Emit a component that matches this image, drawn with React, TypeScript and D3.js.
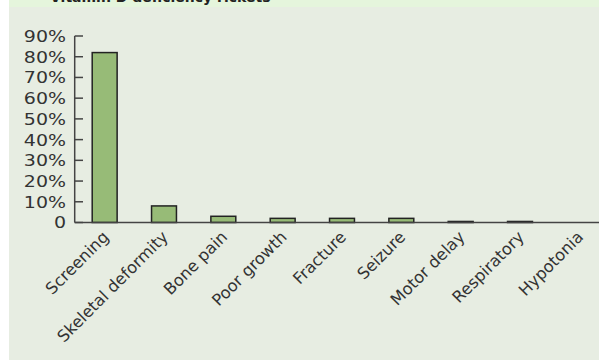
import React from "react";
import * as d3 from "d3";

const categories = ["Screening", "Skeletal deformity", "Bone pain", "Poor growth", "Fracture", "Seizure", "Motor delay", "Respiratory", "Hypotonia"];
const values = [82, 8, 3, 2, 2, 2, 0.5, 0.5, 0];
const yTicks = [0, 10, 20, 30, 40, 50, 60, 70, 80, 90];
const title = "Vitamin D deficiency rickets";

const W = 599;
const H = 361;
const FONT = "'DejaVu Sans', sans-serif";

export default function App() {
  const x = d3.scaleBand<string>().domain(categories).range([75, 609]).paddingInner(0.58).paddingOuter(0.29);
  const y = d3.scaleLinear().domain([0, 90]).range([222.5, 36]);
  const fmt = (v: number) => (v === 0 ? "0" : `${v}%`);
  return (
    <svg width={W} height={H} style={{ position: "absolute", left: 0, top: 0 }} xmlns="http://www.w3.org/2000/svg">
      <rect x={9} y={0} width={W - 9} height={7} fill="#e5f5dc" />
      <rect x={9} y={7} width={W - 9} height={353} fill="#e7ede2" />
      <text x={50} y={2} fontFamily={FONT} fontWeight="bold" fontSize={14} fill="#222">{title}</text>
      {values.map((v, i) => {
        const c = categories[i];
        if (v <= 0) return null;
        return (
          <rect key={c} x={x(c)} y={y(v)} width={x.bandwidth()} height={y(0) - y(v)} fill="#97bb77" stroke="#222" strokeWidth={1.5} />
        );
      })}
      <line x1={74.7} x2={W} y1={y(0)} y2={y(0)} stroke="#444" strokeWidth={1.5} />
      <line x1={74.7} x2={74.7} y1={y(90)} y2={y(0)} stroke="#444" strokeWidth={1.5} />
      {yTicks.map((t) => (
        <g key={t}>
          <line x1={74.7} x2={83} y1={y(t)} y2={y(t)} stroke="#444" strokeWidth={1.5} />
          <text transform={`translate(66,${y(t)}) scale(1.15,1)`} dy="0.36em" textAnchor="end" fontFamily={FONT} fontSize={16.5} fill="#333">{fmt(t)}</text>
        </g>
      ))}
      {categories.map((c) => {
        const cx = (x(c) as number) + x.bandwidth() / 2 + 1;
        const cy = 234;
        return (
          <text key={c} transform={`translate(${cx},${cy}) rotate(-45)`} textAnchor="end" dy="0.35em" fontFamily={FONT} fontSize={16.3} fill="#333">{c}</text>
        );
      })}
    </svg>
  );
}
